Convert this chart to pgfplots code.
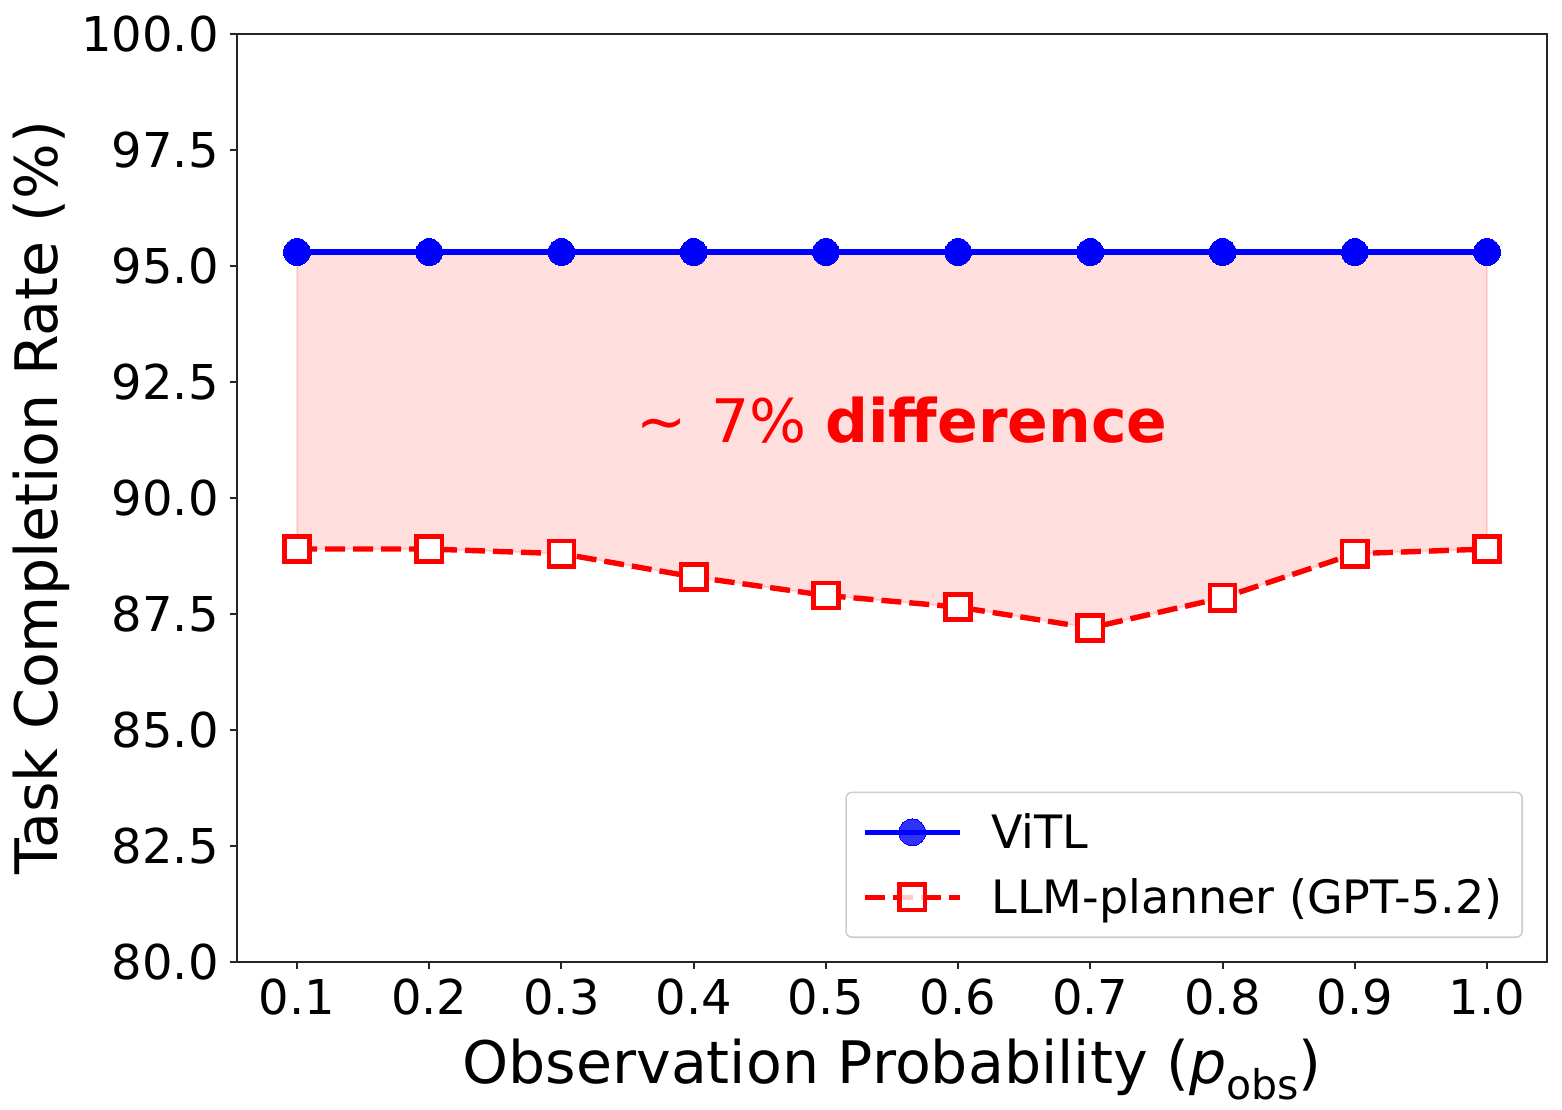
\documentclass[border=0pt]{standalone}
\usepackage{fontspec}
\setmainfont{DejaVu Sans}
\usepackage{pgfplots}
\pgfplotsset{compat=1.18}
\usepgfplotslibrary{fillbetween}

\definecolor{vitlblue}{RGB}{0,0,255}
\definecolor{llmred}{RGB}{255,0,0}

\begin{document}
\begin{tikzpicture}
\begin{axis}[
  at={(0,0)}, anchor=south west,
  set layers,
  scale only axis, width=655pt, height=464pt,
  xmin=0.0546, xmax=1.0454, ymin=80, ymax=100,
  xtick={0.1,0.2,0.3,0.4,0.5,0.6,0.7,0.8,0.9,1.0},
  ytick={80,82.5,85,87.5,90,92.5,95,97.5,100},
  tick align=outside,
  major tick length=3.5pt,
  tick style={line width=1pt, color=black!85},
  axis line style={line width=1pt, color=black!85},
  xtick pos=bottom, ytick pos=left,
  /pgf/number format/.cd, fixed, fixed zerofill, precision=1, assume math mode=true,
  /pgfplots/.cd,
  tick label style={font=\fontsize{24}{28}\selectfont},
  xticklabel style={anchor=north, inner sep=0pt, yshift=-4.5pt},
  yticklabel style={anchor=east, inner sep=0pt, xshift=-5.5pt},
  xlabel={Observation Probability (\textit{p}\raisebox{-0.28em}{\fontsize{20.5}{21}\selectfont obs})},
  ylabel={Task Completion Rate (\%)},
  label style={font=\fontsize{29.3}{34}\selectfont},
  xlabel style={at={(axis description cs:0.5,0)}, anchor=base, yshift=-60.5pt},
  ylabel style={at={(axis description cs:0,0.5)}, anchor=center, yshift=98pt},
  legend cell align=left,
  legend style={
    at={(rel axis cs:1,0)}, anchor=south east, xshift=-12pt, yshift=12pt,
    draw=black!20, line width=0.8pt, rounded corners=3pt,
    fill=white, fill opacity=0.8, text opacity=1,
    font=\fontsize{23}{27}\selectfont,
    inner xsep=8pt, inner ysep=8.5pt, row sep=9.5pt,
    /tikz/every odd column/.append style={column sep=12.5pt},
  },
  legend image code/.code={%
    \draw[mark repeat=2, mark phase=2, #1]
      plot coordinates {(0pt,0pt) (23.75pt,0pt) (47.5pt,0pt)};},
]

% ViTL: constant completion rate
\addplot[name path=vitl, color=vitlblue, line width=2.6pt,
  mark=*, mark size=6.7pt, mark options={solid, fill=vitlblue, draw=vitlblue, line width=0pt}]
  coordinates {
  (0.1,95.3) (0.2,95.3) (0.3,95.3) (0.4,95.3) (0.5,95.3)
  (0.6,95.3) (0.7,95.3) (0.8,95.3) (0.9,95.3) (1.0,95.3)
};
\addlegendentry{ViTL}

% LLM-planner (GPT-5.2)
\addplot[name path=llm, color=llmred, line width=2.7pt,
  dash pattern=on 10pt off 4pt,
  mark=square*, mark size=6.3pt, mark options={solid, fill=white, draw=llmred, line width=2.3pt}]
  coordinates {
  (0.1,88.9) (0.2,88.9) (0.3,88.8) (0.4,88.3) (0.5,87.9)
  (0.6,87.65) (0.7,87.2) (0.8,87.85) (0.9,88.8) (1.0,88.9)
};
\addlegendentry{LLM-planner (GPT-5.2)}

% shaded gap between the two methods
\addplot[fill=llmred, fill opacity=0.13, draw=llmred, draw opacity=0.12, line width=1pt]
  fill between[of=vitl and llm];

\node[text=llmred, anchor=base, inner sep=0pt, font=\fontsize{30}{34}\selectfont]
  at (axis cs:0.5576,91.19) {∼\hspace{12pt}7\% \textbf{difference}};

\end{axis}
\useasboundingbox (-118.5pt,-73.5pt) rectangle (662.5pt,481pt);
\end{tikzpicture}
\end{document}
